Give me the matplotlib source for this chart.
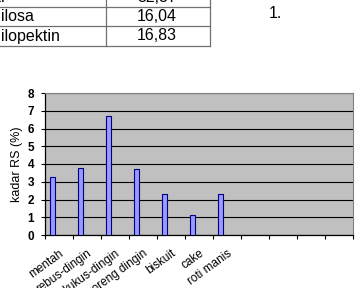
import matplotlib
matplotlib.use("Agg")
import matplotlib.pyplot as plt
from matplotlib.lines import Line2D
import numpy as np

plt.rcParams["font.family"] = ["Liberation Sans", "DejaVu Sans"]

# table rows (partly cut off in the reference)
table_names = ["Pati", "Amilosa", "Amilopektin"]
table_values = ["32,37", "16,04", "16,83"]

# chart data
categories = ["mentah", "rebus-dingin", "kukus-dingin", "goreng dingin",
              "biskuit", "cake", "roti manis", "", "", "", ""]
kadar_rs = [3.25, 3.8, 6.7, 3.7, 2.3, 1.15, 2.3]
y_ticks = [0, 1, 2, 3, 4, 5, 6, 7, 8]

W, H = 355, 288
fig = plt.figure(figsize=(W / 100, H / 100), dpi=100)

def fx(px):
    return px / W

def fy(py):
    return 1 - py / H

# --- table ---
line_kw = dict(color="#707070", linewidth=0.9, transform=fig.transFigure)
row_lines = [6.5, 26, 46]
for yl in row_lines:
    fig.add_artist(Line2D([fx(-5), fx(210)], [fy(yl), fy(yl)], **line_kw))
for xl in [106, 210]:
    fig.add_artist(Line2D([fx(xl), fx(xl)], [fy(-5), fy(46)], **line_kw))

row_centers = [-2.5, 16.5, 36]
for name, val, yc in zip(table_names, table_values, row_centers):
    fig.text(fx(-22), fy(yc), name, ha="left", va="center", fontsize=11.5)
    fig.text(fx(157), fy(yc), val, ha="center", va="center", fontsize=11.5)

fig.text(fx(269), fy(14), "1.", ha="left", va="center", fontsize=11.5)

# --- chart ---
ax = fig.add_axes([fx(45), fy(235), fx(353) - fx(45), fy(93) - fy(235)])
ax.set_facecolor("#c0c0c0")

n = len(categories)
x = np.arange(len(kadar_rs))
ax.bar(x - 0.24, kadar_rs, width=0.19, color="#9999ff",
       edgecolor="#000080", linewidth=0.8, zorder=3)

ax.set_xlim(-0.5, n - 0.5)
ax.set_ylim(0, 8)
ax.set_yticks(y_ticks)
ax.set_yticklabels([str(t) for t in y_ticks], fontweight="bold", fontsize=8.5)
ax.yaxis.grid(True, color="black", linewidth=0.8)
ax.set_axisbelow(True)

# tick marks at category boundaries, labels at centres
ax.set_xticks(np.arange(n + 1) - 0.5)
ax.set_xticklabels([])
ax.set_xticks(np.arange(n), minor=True)
ax.set_xticklabels(categories, minor=True, rotation=36, ha="right",
                   va="top", rotation_mode="anchor", fontsize=8.5)
ax.tick_params(axis="x", which="minor", length=0, pad=9)
ax.tick_params(axis="x", which="major", length=3, width=0.8, color="black")
ax.tick_params(axis="y", length=3, width=0.8, pad=5)

ax.set_ylabel("kadar RS (%)", fontsize=9, labelpad=3)

for side in ["top", "right"]:
    ax.spines[side].set_color("#808080")
for side in ["left", "bottom"]:
    ax.spines[side].set_color("black")
    ax.spines[side].set_linewidth(0.9)

fig.savefig("out.png", dpi=100)
